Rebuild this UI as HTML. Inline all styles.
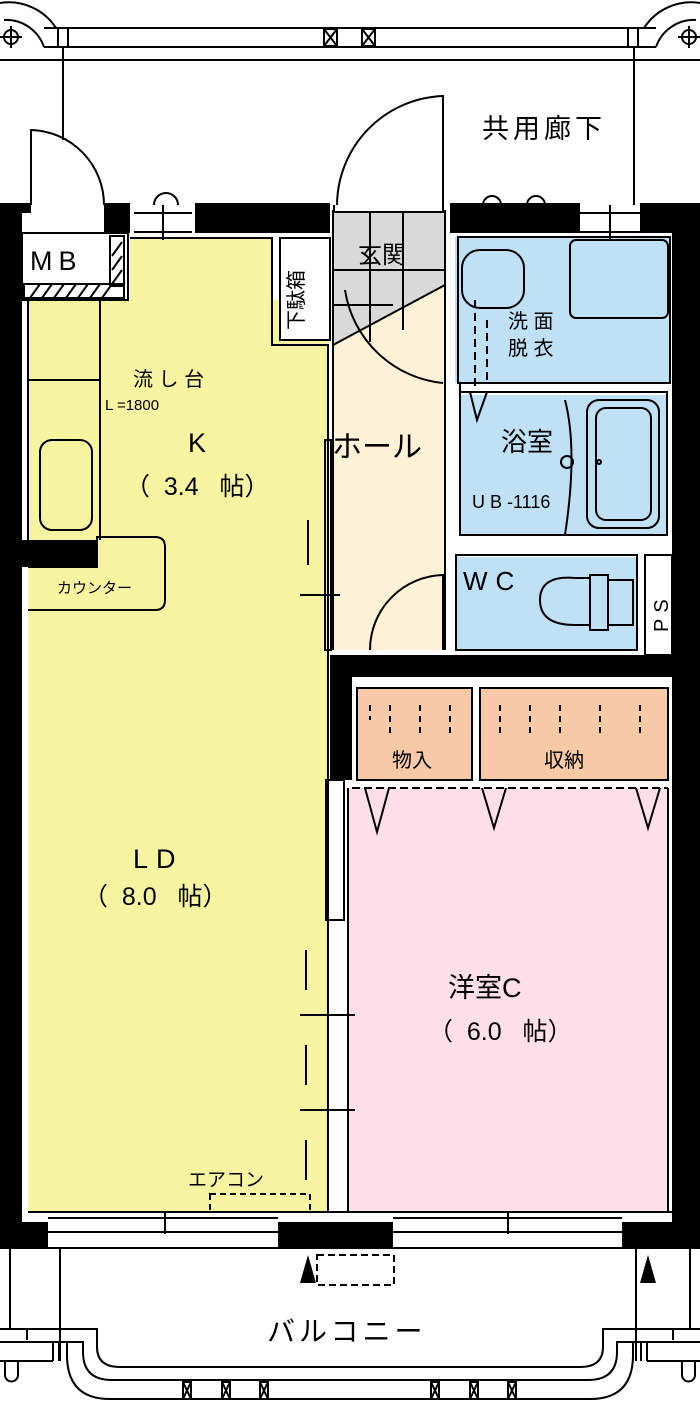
<!DOCTYPE html>
<html><head><meta charset="utf-8"><style>
html,body{margin:0;padding:0;background:#fff}
svg{display:block}
text{font-family:"Liberation Sans","Noto Sans CJK JP",sans-serif;fill:#000}
</style></head><body>
<svg width="700" height="1410" viewBox="0 0 700 1410" xmlns="http://www.w3.org/2000/svg" stroke-linecap="butt">
<rect width="700" height="1410" fill="#fff"/>
<!-- top corridor -->
<g fill="none" stroke="#000" stroke-width="2">
<line x1="44" y1="28" x2="656" y2="28"/><line x1="44" y1="47" x2="656" y2="47"/>
<line x1="0" y1="60" x2="700" y2="60"/>
<path d="M0 3 A56 56 0 0 1 56 28"/><path d="M44 47 A40 40 0 0 0 4 20"/>
<path d="M700 3 A56 56 0 0 0 644 28"/><path d="M656 47 A40 40 0 0 1 696 20"/>
<line x1="58" y1="28" x2="58" y2="47"/><line x1="68" y1="28" x2="68" y2="47"/>
<line x1="628" y1="28" x2="628" y2="47"/><line x1="638" y1="28" x2="638" y2="47"/>
<line x1="63" y1="47" x2="63" y2="140"/><line x1="634" y1="47" x2="634" y2="205"/>
<rect x="324" y="29" width="13" height="17"/><rect x="362" y="29" width="13" height="17"/>
<path d="M324 29 L337 46 M337 29 L324 46 M362 29 L375 46 M375 29 L362 46"/>
<circle cx="11" cy="37" r="7"/><circle cx="689" cy="37" r="7"/>
<path d="M0 37h22M11 26v22M678 37h22M689 26v22"/>
<path d="M31 205 V130 A75 75 0 0 1 104 205"/>
<path d="M443 205 V96 A110 110 0 0 0 337 205"/>
<path d="M154 205 A12 12 0 0 1 178 205"/>
<path d="M483 205 A9 9 0 0 1 501 205 M527 205 A9 9 0 0 1 545 205"/>
</g>
<text x="482" y="138" font-size="27" letter-spacing="4">共用廊下</text>
<!-- room fills -->
<rect x="28" y="300" width="300" height="912" fill="#f6f4a0"/>
<rect x="130" y="238" width="143" height="70" fill="#f6f4a0"/>
<rect x="333" y="238" width="112" height="412" fill="#fdf2d7"/>
<path d="M333 212 H445 V285 L333 345 Z" fill="#d9d9d9"/>
<rect x="455" y="237" width="215" height="146" fill="#bfe0f5"/>
<rect x="460" y="395" width="207" height="140" fill="#bfe0f5"/>
<rect x="456" y="557" width="181" height="93" fill="#bfe0f5"/>
<rect x="357" y="688" width="115" height="92" fill="#f7c9a6"/>
<rect x="480" y="688" width="188" height="92" fill="#f7c9a6"/>
<rect x="348" y="788" width="320" height="424" fill="#fcdfe8"/>
<!-- walls -->
<g fill="#000">
<rect x="0" y="203" width="22" height="1045"/>
<rect x="672" y="203" width="28" height="1045"/>
<rect x="0" y="203" width="31" height="10"/>
<rect x="104" y="203" width="26" height="30"/>
<rect x="195" y="203" width="135" height="30"/>
<rect x="450" y="203" width="130" height="30"/>
<rect x="640" y="203" width="60" height="30"/>
<rect x="22" y="540" width="75" height="27"/>
<rect x="330" y="655" width="370" height="22"/>
<rect x="330" y="655" width="22" height="125"/>
<rect x="0" y="1222" width="48" height="26"/>
<rect x="278" y="1222" width="115" height="26"/>
<rect x="622" y="1222" width="78" height="26"/>
</g>
<!-- window frames top -->
<g stroke="#000" stroke-width="2" fill="none">
<path d="M134 213 H192 M134 232 H192 M163 205 V240 M580 213 H640 M580 232 H640 M610 205 V240"/>
<path d="M334 205 V212 M443 205 V212"/>
</g>
<!-- MB hatch -->
<g stroke="#000" stroke-width="2" fill="none">
<rect x="22" y="233" width="106" height="67" fill="#fff"/>
<rect x="24" y="284" width="100" height="14"/><rect x="110" y="236" width="14" height="50"/>
<path d="M30 298l10-14M42 298l10-14M54 298l10-14M66 298l10-14M78 298l10-14M90 298l10-14M102 298l10-14M112 256l10-14M112 270l10-14M112 284l10-14"/>
</g>
<text x="30" y="270" font-size="27" letter-spacing="6">MB</text>
<g stroke="#000" stroke-width="2" fill="none">
<path d="M28 300 V540 M100 300 V540 M28 380 H100"/>
<rect x="40" y="440" width="52" height="90" rx="12"/>
<path d="M28 567 H97 V537 H155 Q165 537 165 547 V600 Q165 610 155 610 H28"/>
<path d="M130 238 H272 V345 H328 V1212 H28"/>
<rect x="280" y="238" width="50" height="102" fill="#fff"/>
<path d="M333 212 H445 M333 210 V650 M445 210 V650 M333 345 L445 285"/>
<path d="M370 212v130M403 212v118M333 270h112M333 305h60"/>
<path d="M443 383 A110 110 0 0 1 345 290"/>
<path d="M370 650 A75 75 0 0 1 443 575 V650"/>
<rect x="325" y="440" width="6" height="210"/><rect x="326" y="780" width="18" height="140"/>
<path d="M308 520v45M300 595h40M306 950v40M300 1015h55M306 1045v40M300 1110h55M306 1140v40"/>
<rect x="210" y="1194" width="100" height="18" stroke-dasharray="6 4"/>
<rect x="458" y="237" width="212" height="146"/>
<rect x="570" y="240" width="98" height="78" rx="6"/>
<rect x="462" y="250" width="62" height="58" rx="18"/>
<path d="M475 300 v90 M487 320v60" stroke-dasharray="8 5"/>
<path d="M460 383 V392 M460 392 H667 V535 H460 Z"/>
<path d="M565 400 Q578 450 565 535"/>
<rect x="587" y="400" width="72" height="128" rx="12"/>
<rect x="596" y="408" width="55" height="112" rx="10"/>
<circle cx="567" cy="462" r="6"/><circle cx="599" cy="462" r="2"/>
<path d="M470 392 L477 420 L487 392"/>
<rect x="456" y="555" width="181" height="95"/>
<path d="M540 600 Q540 575 575 578 H590 V625 H575 Q540 625 540 600Z"/>
<rect x="590" y="575" width="18" height="55"/><rect x="608" y="580" width="25" height="45"/>
<rect x="645" y="555" width="27" height="100" fill="#fff"/>
<rect x="357" y="688" width="115" height="92"/><rect x="480" y="688" width="188" height="92"/>
<path d="M352 788 H668" stroke-dasharray="8 4"/>
<path d="M365 788 L377 832 L389 788 M482 788 L494 828 L506 788 M636 788 L648 828 L660 788"/>
<path d="M348 788 V1212 H668 V788"/>
<path d="M370 705v15M390 705v30M420 705v30M450 705v30M500 705v30M530 705v30M560 705v30M600 705v30M640 705v30" stroke-dasharray="6 5"/>
<path d="M28 1212 H672 M48 1218 H278 M48 1232 H278 M393 1218 H622 M393 1232 H622"/>
<path d="M165 1212v22M508 1212v22"/>
<!-- balcony -->
<path d="M0 1248 H700"/>
<path d="M60 1248 V1361 M636 1248 V1361"/>
<path d="M10 1248 V1330 M690 1248 V1330"/>
<path d="M27 1329 H97 V1347 Q97 1367 120 1367 H580 Q603 1367 603 1347 V1329 H673"/>
<path d="M0 1342 H83 V1352 Q83 1380 112 1380 H588 Q617 1380 617 1352 V1342 H700"/>
<path d="M0 1361 H53 M67 1342 V1355 Q67 1399 110 1399 H590 Q633 1399 633 1355 V1342 M647 1361 H700"/>
<path d="M53 1342 V1361 M59 1342 V1361 M641 1342 V1361 M647 1342 V1361"/>
<path d="M5 1361 V1375 A6.5 6.5 0 0 0 18 1375 V1361 M682 1361 V1375 A6.5 6.5 0 0 0 695 1375 V1361"/>
<path d="M0 1329 H27 V1340 M673 1340 V1329 H700"/>
</g>
<path d="M300 1283 L308 1255 L316 1283Z M640 1283 L648 1255 L656 1283Z" fill="#000"/>
<rect x="317" y="1255" width="77" height="30" fill="none" stroke="#000" stroke-width="2" stroke-dasharray="7 4"/>
<g stroke="#000" stroke-width="2" fill="none">
<rect x="183" y="1382" width="8" height="17"/><rect x="222" y="1382" width="8" height="17"/><rect x="260" y="1382" width="8" height="17"/>
<rect x="431" y="1382" width="8" height="17"/><rect x="470" y="1382" width="8" height="17"/><rect x="508" y="1382" width="8" height="17"/>
<path d="M183 1382l8 17M191 1382l-8 17M222 1382l8 17M230 1382l-8 17M260 1382l8 17M268 1382l-8 17M431 1382l8 17M439 1382l-8 17M470 1382l8 17M478 1382l-8 17M508 1382l8 17M516 1382l-8 17"/>
</g>
<!-- labels -->
<text x="358" y="263" font-size="24">玄関</text>
<text font-size="20" transform="translate(303,330) rotate(-90)">下駄箱</text>
<text x="508" y="328" font-size="20">洗 面</text>
<text x="508" y="355" font-size="20">脱 衣</text>
<text x="501" y="451" font-size="26">浴室</text>
<text x="472" y="508" font-size="18">U B -1116</text>
<text x="463" y="590" font-size="26" letter-spacing="8">WC</text>
<text font-size="20" transform="translate(668,632) rotate(-90)" letter-spacing="6">PS</text>
<text x="133" y="386" font-size="20">流 し 台</text>
<text x="105" y="410" font-size="15">L =1800</text>
<text x="188" y="452" font-size="27">K</text>
<text x="125" y="495" font-size="25" xml:space="preserve">（  3.4   帖）</text>
<text x="332" y="457" font-size="30">ホール</text>
<text x="57" y="593" font-size="15">カウンター</text>
<text x="133" y="868" font-size="27" letter-spacing="8">LD</text>
<text x="83" y="905" font-size="25" xml:space="preserve">（  8.0   帖）</text>
<text x="188" y="1186" font-size="19">エアコン</text>
<text x="392" y="767" font-size="20">物入</text>
<text x="544" y="767" font-size="20">収納</text>
<text x="448" y="997" font-size="27">洋室C</text>
<text x="428" y="1040" font-size="25" xml:space="preserve">（  6.0   帖）</text>
<text x="267" y="1341" font-size="28" letter-spacing="4">バルコニー</text>
</svg>
</body></html>
